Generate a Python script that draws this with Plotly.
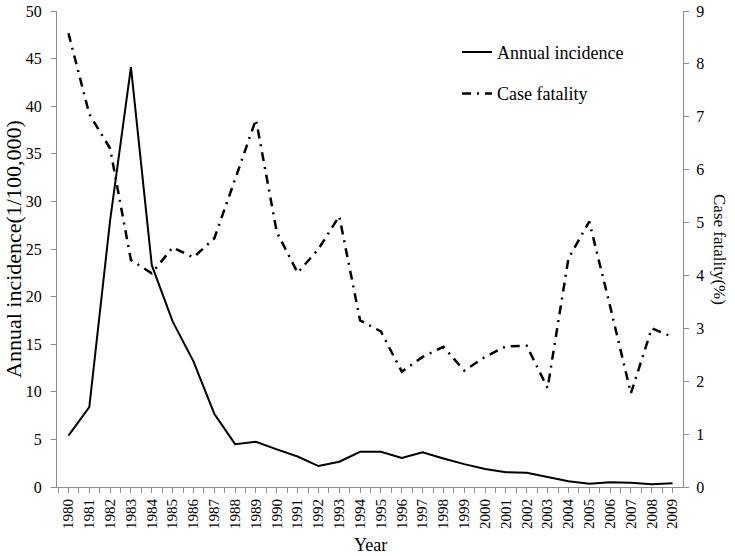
import plotly.graph_objects as go

years = list(range(1980, 2010))
incidence = [5.4, 8.4, 28.0, 44.1, 23.3, 17.4, 13.2, 7.7, 4.5, 4.75, 3.95, 3.2, 2.2, 2.65,
             3.7, 3.7, 3.05, 3.65, 3.0, 2.4, 1.9, 1.55, 1.5, 1.05, 0.6, 0.35, 0.5, 0.45, 0.3, 0.4]
fatality = [8.58, 7.05, 6.4, 4.29, 4.04, 4.53, 4.34, 4.7, 5.82, 6.95, 4.82, 4.05, 4.5, 5.12,
            3.15, 2.94, 2.18, 2.46, 2.65, 2.2, 2.46, 2.66, 2.67, 1.87, 4.32, 5.02, 3.42, 1.77, 3.0, 2.84]

font_family = "Liberation Serif"
axis_col = "#8c8c8c"

fig = go.Figure()
fig.add_trace(go.Scatter(
    x=years, y=incidence, mode="lines", name="Annual incidence",
    line=dict(color="black", width=2), legendgroup="a"))
fig.add_trace(go.Scatter(
    x=years, y=fatality, mode="lines", name="Case fatality", yaxis="y2",
    line=dict(color="black", width=2.5, dash="9px,6px,2px,6px"), legendgroup="b"))

fig.update_layout(
    width=735, height=556,
    margin=dict(l=57, r=52, t=11, b=69, autoexpand=False),
    plot_bgcolor="white", paper_bgcolor="white",
    font=dict(family=font_family, size=15, color="black"),
    showlegend=True,
    legend=dict(x=0.639, y=0.952, xanchor="left", yanchor="top",
                bgcolor="rgba(0,0,0,0)", font=dict(size=18, family=font_family),
                tracegroupgap=15),
    xaxis=dict(
        range=[1979.45, 2009.5], tickmode="array", tickvals=years,
        ticktext=[str(y) for y in years], tickangle=-90, automargin=False,
        showgrid=False, zeroline=False, showline=True, linecolor=axis_col, linewidth=1,
        ticks="outside", ticklen=5, tickcolor=axis_col,
        minor=dict(tickmode="array", tickvals=[y + 0.5 for y in years[:-1]] + [1979.5],
                   ticks="outside", ticklen=5, tickcolor=axis_col, showgrid=False),
        tickfont=dict(size=15),
    ),
    yaxis=dict(
        range=[0, 50], dtick=5, showgrid=False, zeroline=False, automargin=False,
        showline=True, linecolor=axis_col, linewidth=1, ticklabelstandoff=6,
        ticks="outside", ticklen=5, tickcolor=axis_col, tickfont=dict(size=16),
    ),
    yaxis2=dict(
        range=[0, 9], dtick=1, overlaying="y", side="right", showgrid=False, zeroline=False,
        automargin=False, ticklabelstandoff=4,
        showline=True, linecolor=axis_col, linewidth=1,
        ticks="outside", ticklen=5, tickcolor=axis_col, tickfont=dict(size=16),
    ),
    annotations=[
        dict(text="Annual incidence(1/100,000)", textangle=-90, xref="paper", yref="paper",
             x=0, y=0.5, xshift=-44, xanchor="center", yanchor="middle", showarrow=False,
             font=dict(size=22, family=font_family)),
        dict(text="Case fatality(%)", textangle=90, xref="paper", yref="paper",
             x=1.0, y=0.5, xshift=37, xanchor="center", yanchor="middle", showarrow=False,
             font=dict(size=17, family=font_family)),
        dict(text="Year", xref="paper", yref="paper",
             x=0.5, y=0, yshift=-58, xanchor="center", yanchor="middle", showarrow=False,
             font=dict(size=18, family=font_family)),
    ],
)

fig.write_html("out.html", config={"displayModeBar": False},
               post_script="document.body.style.margin='0';")
